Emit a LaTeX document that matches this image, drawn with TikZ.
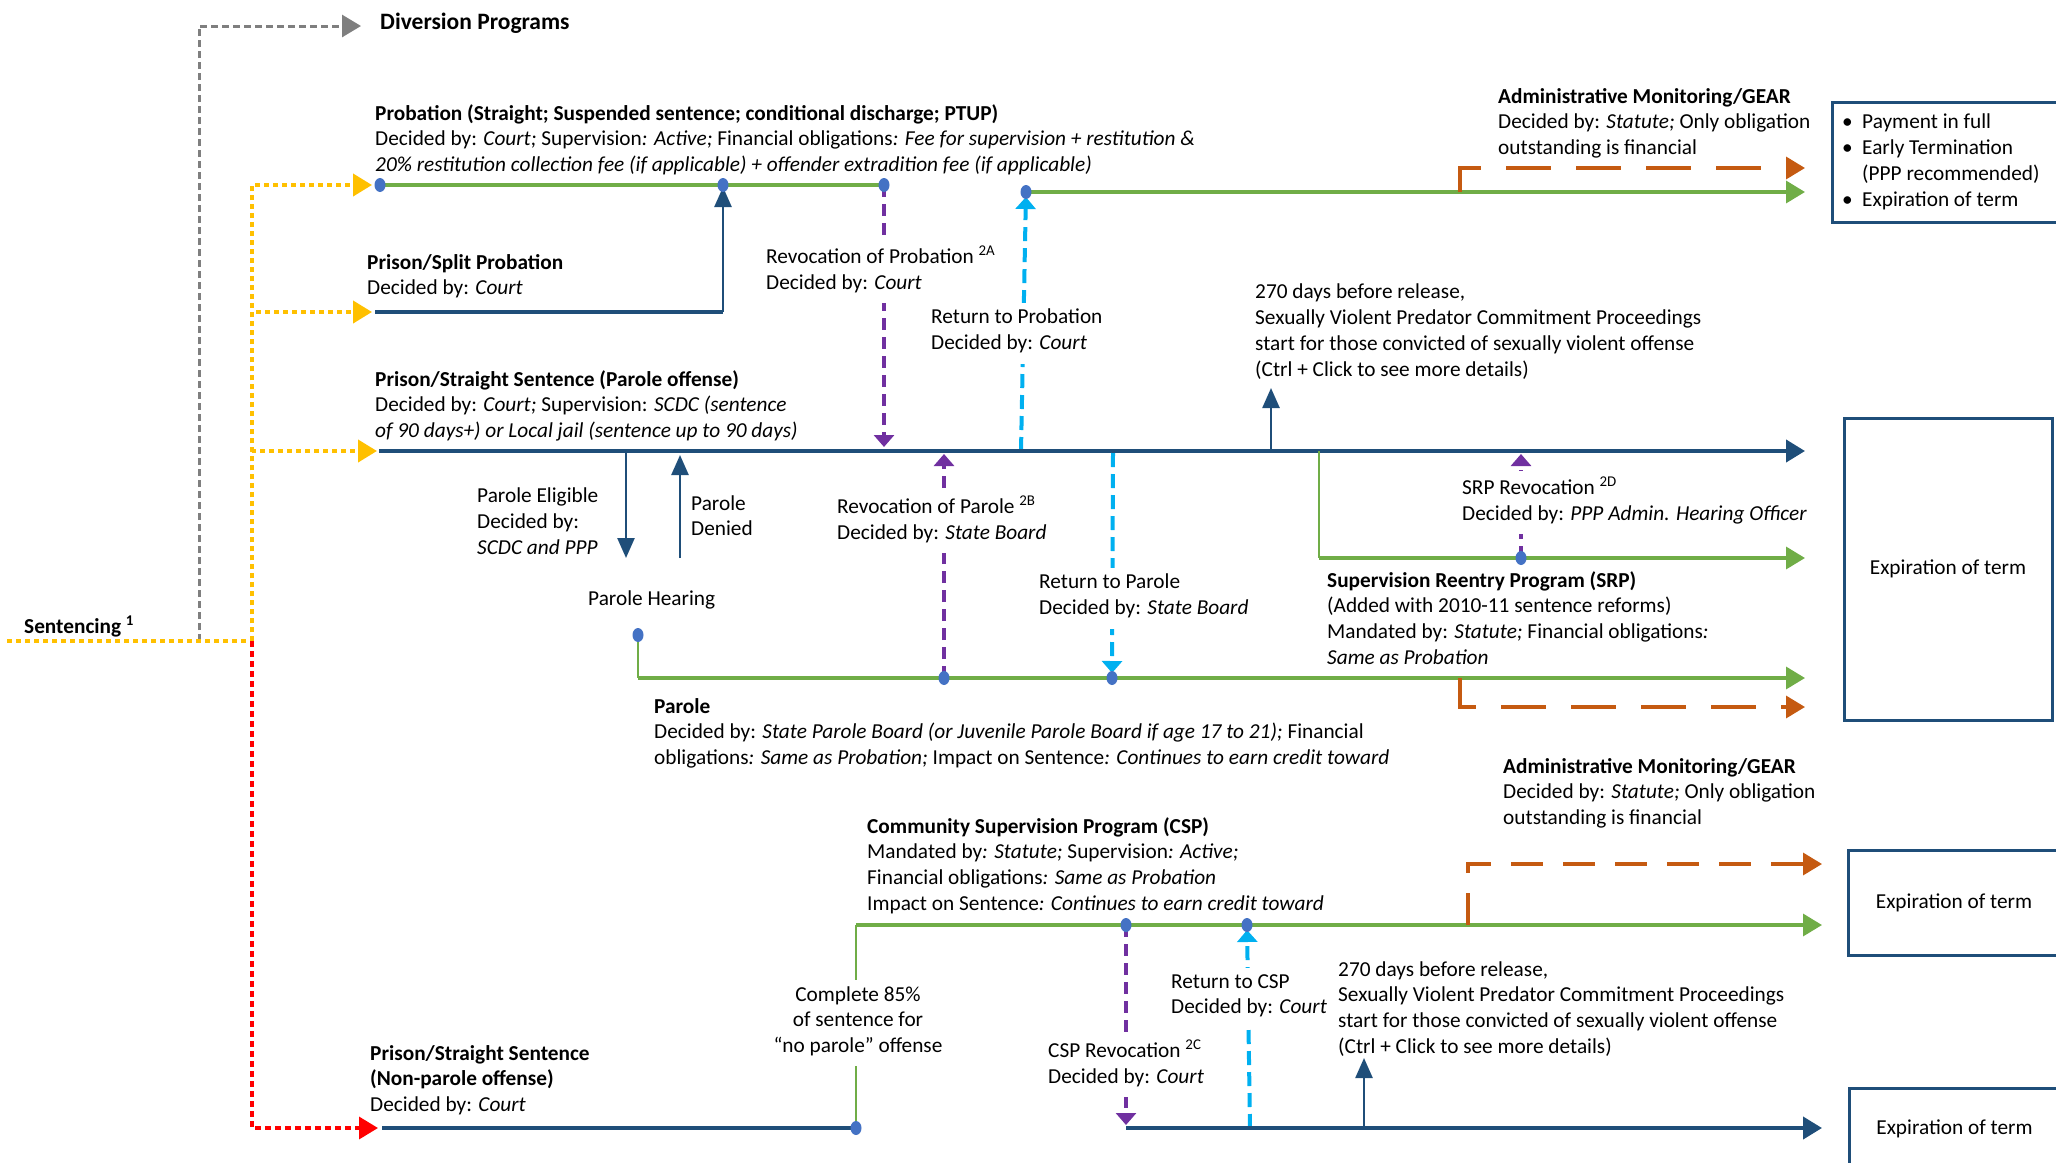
\documentclass[tikz,border=0pt]{standalone}
\usepackage{fontspec}
\setmainfont{Carlito}
\usetikzlibrary{arrows.meta,shapes.geometric}
\definecolor{dkblue}{HTML}{1F4E79}
\definecolor{grn}{HTML}{70AD47}
\definecolor{dotb}{HTML}{4472C4}
\definecolor{purp}{HTML}{7030A0}
\definecolor{cyn}{HTML}{00B0F0}
\definecolor{orng}{HTML}{C55A11}
\definecolor{ylw}{HTML}{FFC000}
\definecolor{gry}{HTML}{7F7F7F}
\definecolor{rd}{HTML}{FF0000}
\newcommand\txtfont{\fontsize{21.3}{25.8}\selectfont}
\newcommand\bigtxtfont{\fontsize{23.5}{28}\selectfont}
\begin{document}
\begin{tikzpicture}[x=1pt,y=-1pt,
 txt/.style={anchor=north west, inner sep=0pt, align=left, font=\txtfont, execute at begin node=\strut, yshift=-2pt},
 cover/.style={fill=white, inner xsep=3pt, inner ysep=6pt, xshift=-3pt, yshift=6pt},
 pdot/.style={ellipse, fill=dotb, inner sep=0pt, minimum width=11pt, minimum height=14pt},
 termbox/.style={draw=dkblue, line width=3pt, font=\txtfont, align=center, inner sep=0pt},
 mainln/.style={draw=dkblue, line width=4pt},
 thinln/.style={draw=dkblue, line width=2.5pt},
 grnln/.style={draw=grn, line width=3.5pt},
 grnthin/.style={draw=grn, line width=2.5pt},
 bigtip/.style={-{Triangle[length=19pt,width=22pt]}},
 thintip/.style={-{Triangle[length=20pt,width=17pt]}},
 dashtip/.style={-{Triangle[length=12pt,width=20pt]}},
 purpdash/.style={draw=purp, line width=4pt, dash pattern=on 12pt off 7pt},
 cyandash/.style={draw=cyn, line width=4pt, dash pattern=on 14pt off 7pt},
 orngdash/.style={draw=orng, line width=3.5pt, dash pattern=on 45pt off 25pt},
 orngdashb/.style={draw=orng, line width=3.5pt, dash pattern=on 32pt off 20pt},
 ydot/.style={draw=ylw, line width=4pt, dash pattern=on 5pt off 4pt},
 rdot/.style={draw=rd, line width=3.5pt, dash pattern=on 6pt off 4pt},
 gdot/.style={draw=gry, line width=3pt, dash pattern=on 7pt off 4pt},
]
\useasboundingbox (0,0) rectangle (2056,1162);

% ---- key points ----
\coordinate (sl) at (7,641);
\coordinate (sy) at (252,641);
\coordinate (sg) at (199,641);
\coordinate (divtip) at (361,26);
\coordinate (ytipA) at (372,185);
\coordinate (ytipB) at (372,312);
\coordinate (ytipC) at (377,451);
\coordinate (rtip) at (378,1128);

\coordinate (p1) at (380,185);
\coordinate (p2) at (723,185);
\coordinate (p3) at (884,185);
\coordinate (q1) at (1026,192);
\coordinate (qend) at (1805,192);
\coordinate (gq) at (1460,192);
\coordinate (gqend) at (1805,168);
\coordinate (splitS) at (375,312);
\coordinate (splitE) at (723,312);

\coordinate (m0) at (379,451);
\coordinate (mend) at (1805,451);
\coordinate (m884) at (884,447);
\coordinate (m1021) at (1021,451);
\coordinate (pe1) at (626,451);
\coordinate (pe2) at (626,558);
\coordinate (pd1) at (680,558);
\coordinate (pd2) at (680,455);
\coordinate (sv1a) at (1271,451);
\coordinate (sv1b) at (1271,388);

\coordinate (srp0) at (1319,451);
\coordinate (srp1) at (1319,558);
\coordinate (srpend) at (1805,558);
\coordinate (srpd) at (1521,558);
\coordinate (srpup) at (1521,454);

\coordinate (ph) at (638,635);
\coordinate (parc) at (638,678);
\coordinate (pard1) at (944,678);
\coordinate (pard2) at (1112,678);
\coordinate (parend) at (1805,678);
\coordinate (m944) at (944,454);
\coordinate (m1113) at (1113,453);
\coordinate (go) at (1460,678);
\coordinate (goend) at (1805,707);

\coordinate (np0) at (382,1128);
\coordinate (npd) at (856,1128);
\coordinate (cspc) at (856,925);
\coordinate (cspend) at (1822,925);
\coordinate (cd1) at (1126,925);
\coordinate (cd2) at (1247,925);
\coordinate (b0) at (1126,1128);
\coordinate (b0top) at (1126,1125);
\coordinate (bend) at (1822,1128);
\coordinate (b1250) at (1250,1128);
\coordinate (sv2a) at (1364,1126);
\coordinate (sv2b) at (1364,1058);
\coordinate (gc) at (1468,925);
\coordinate (gcend) at (1822,864);

% ---- sentencing branches ----
\draw[gdot, bigtip] (sg) |- (divtip);
\draw[ydot] (sl) -- (sy);
\draw[ydot, bigtip] (sy) |- (ytipA);
\draw[ydot, bigtip] (sy) |- (ytipB);
\draw[ydot, bigtip] (sy) |- (ytipC);
\draw[rdot, bigtip] (sy) |- (rtip);

% ---- probation ----
\draw[grnln] (p1) -- (p3);
\draw[mainln] (splitS) -- (splitE);
\draw[thinln, thintip, shorten >=2pt] (splitE) -- (p2);
\draw[purpdash, dashtip] (p3) -- (m884);
\draw[cyandash, dashtip, shorten >=5pt] (m1021) -- (q1);
\draw[grnln, bigtip] (q1) -- (qend);
\draw[orngdash, bigtip] (gq) |- (gqend);

% ---- prison, parole offense ----
\draw[mainln, bigtip] (m0) -- (mend);
\draw[thinln, thintip] (pe1) -- (pe2);
\draw[thinln, thintip] (pd1) -- (pd2);
\draw[thinln, thintip] (sv1a) -- (sv1b);
\draw[grnthin] (srp0) -- (srp1);
\draw[grnln, bigtip] (srp1) -- (srpend);
\draw[purpdash, dashtip] (srpd) -- (srpup);

% ---- parole ----
\draw[grnthin] (ph) -- (parc);
\draw[grnln, bigtip] (parc) -- (parend);
\draw[purpdash, dashtip] (pard1) -- (m944);
\draw[cyandash, dashtip, shorten >=5pt] (m1113) -- (pard2);
\draw[orngdash, bigtip] (go) |- (goend);

% ---- prison, non-parole offense and CSP ----
\draw[mainln] (np0) -- (npd);
\draw[grnthin] (npd) -- (cspc);
\draw[grnln, bigtip] (cspc) -- (cspend);
\draw[purpdash, dashtip] (cd1) -- (b0top);
\draw[cyandash, dashtip, shorten >=5pt] (b1250) -- (cd2);
\draw[mainln, bigtip] (b0) -- (bend);
\draw[thinln, thintip] (sv2a) -- (sv2b);
\draw[orngdashb, bigtip] (gc) |- (gcend);

% ---- junction dots ----
\foreach \c/\n in {p1/dA, p2/dB, p3/dC, q1/dD, srpd/dE, ph/dF, pard1/dG, pard2/dH, npd/dI, cd1/dJ, cd2/dK}
  \node[pdot] (\n) at (\c) {};

% ---- end-of-term boxes ----
\node[termbox, minimum width=226pt, minimum height=120pt] (box1) at (1945,162) {};
\node[termbox, minimum width=208pt, minimum height=302pt] (box2) at (1948,569) {Expiration of term};
\node[termbox, minimum width=212pt, minimum height=105pt] (box3) at (1954,902.5) {Expiration of term};
\node[termbox, minimum width=211pt, minimum height=82pt] (box4) at (1954.5,1129) {Expiration of term};
\node[txt] (list1) at (1842,112) {\makebox[20pt][l]{\textbullet}Payment in full\\
  \makebox[20pt][l]{\textbullet}Early Termination\\
  \hspace*{20pt}(PPP recommended)\\
  \makebox[20pt][l]{\textbullet}Expiration of term};

% ---- labels ----
\node[txt, font=\bigtxtfont\bfseries] (div) at (380,8) {Diversion Programs};
\node[txt, font=\txtfont\bfseries] (sent) at (24,613) {Sentencing \textsuperscript{1}};

\node[txt] (prob) at (375,102) {\textbf{Probation (Straight; Suspended sentence; conditional discharge; PTUP)}\\
  Decided by: \textit{Court;} Supervision\textit{: Active;} Financial obligations\textit{: Fee for supervision + restitution \&}\\
  \textit{20\% restitution collection fee (if applicable) + offender extradition fee (if applicable)}};
\node[txt] (split) at (367,252) {\textbf{Prison/Split Probation}\\ Decided by: \textit{Court}};
\node[txt, cover] (revprob) at (766,244) {Revocation of Probation \textsuperscript{2A}\\ Decided by: \textit{Court}};
\node[txt, cover] (retprob) at (931,307) {Return to Probation\\ Decided by: \textit{Court}};
\node[txt] (straight) at (375,368) {\textbf{Prison/Straight Sentence (Parole offense)}\\
  Decided by: \textit{Court;} Supervision: \textit{SCDC (sentence}\\
  \textit{of 90 days+) or Local jail (sentence up to 90 days)}};
\node[txt] (svp1) at (1255,282) {270 days before release,\\
  Sexually Violent Predator Commitment Proceedings\\
  start for those convicted of sexually violent offense\\
  (Ctrl + Click to see more details)};
\node[txt] (gear1) at (1498,86) {\textbf{Administrative Monitoring/GEAR}\\
  Decided by: \textit{Statute;} Only obligation\\ outstanding is financial};

\node[txt] (elig) at (477,486) {Parole Eligible\\ Decided by:\\ \textit{SCDC and PPP}};
\node[txt, font=\fontsize{21.3}{24.5}\selectfont] (denied) at (691,494) {Parole\\ Denied};
\node[txt] (hearing) at (588,585) {Parole Hearing};
\node[txt, cover] (revpar) at (837,494) {Revocation of Parole \textsuperscript{2B}\\ Decided by: \textit{State Board}};
\node[txt, cover] (retpar) at (1039,572) {Return to Parole\\ Decided by: \textit{State Board}};
\node[txt, cover] (srprev) at (1462,475) {SRP Revocation \textsuperscript{2D}\\ Decided by: \textit{PPP Admin. Hearing Officer}};
\node[txt] (srp) at (1327,569) {\textbf{Supervision Reentry Program (SRP)}\\
  (Added with 2010-11 sentence reforms)\\
  Mandated by: \textit{Statute;} Financial obligations\textit{:}\\
  \textit{Same as Probation}};
\node[txt] (parole) at (654,696) {\textbf{Parole}\\
  Decided by: \textit{State Parole Board (or Juvenile Parole Board if age 17 to 21);} Financial\\
  obligations\textit{: Same as Probation;} Impact on Sentence\textit{: Continues to earn credit toward}};
\node[txt] (gear2) at (1503,756) {\textbf{Administrative Monitoring/GEAR}\\
  Decided by: \textit{Statute;} Only obligation\\ outstanding is financial};

\node[txt] (csp) at (867,815) {\textbf{Community Supervision Program (CSP)}\\
  Mandated by\textit{: Statute;} Supervision\textit{: Active;}\\
  Financial obligations\textit{: Same as Probation}\\
  Impact on Sentence\textit{: Continues to earn credit toward}};
\node[txt, cover, anchor=north, align=center, xshift=3pt] (c85) at (858,984) {Complete 85\%\\ of sentence for\\ “no parole” offense};
\node[txt, cover] (csprev) at (1048,1038) {CSP Revocation \textsuperscript{2C}\\ Decided by: \textit{Court}};
\node[txt, cover] (retcsp) at (1171,972) {Return to CSP\\ Decided by: \textit{Court}};
\node[txt] (svp2) at (1338,959) {270 days before release,\\
  Sexually Violent Predator Commitment Proceedings\\
  start for those convicted of sexually violent offense\\
  (Ctrl + Click to see more details)};
\node[txt] (nonpar) at (370,1043) {\textbf{Prison/Straight Sentence}\\ \textbf{(Non-parole offense)}\\ Decided by: \textit{Court}};
\end{tikzpicture}
\end{document}
